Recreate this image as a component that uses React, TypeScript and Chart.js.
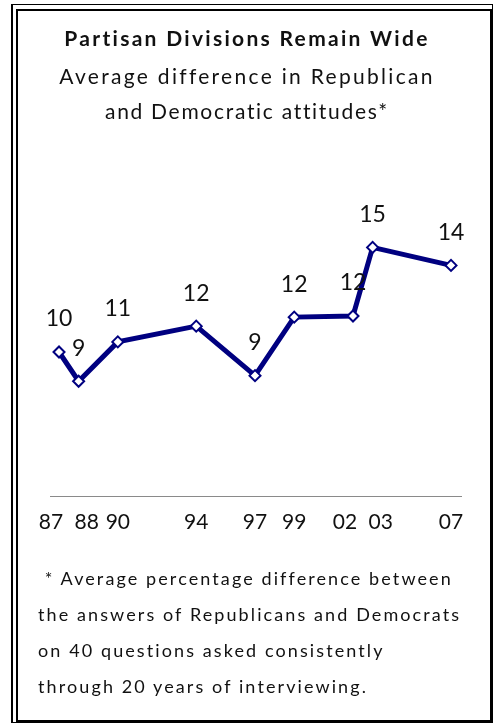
import { useEffect, useRef } from "react";
import { Chart, registerables } from "chart.js";

Chart.register(...registerables);

// Survey years and the average partisan gap (percentage points) for each
const years = [1987, 1988, 1990, 1994, 1997, 1999, 2002, 2003, 2007];
const gap = [10.4, 9.1, 10.85, 11.55, 9.35, 11.95, 12.0, 15.05, 14.25];

const titleText = "Partisan Divisions Remain Wide";
const subtitleLines = ["Average difference in Republican", "and Democratic attitudes*"];
const noteLines = [
  " * Average percentage difference between",
  "the answers of Republicans and Democrats",
  "on 40 questions asked consistently",
  "through 20 years of interviewing.",
];

const NAVY = "#000080";
const FONT = "Lato, 'DejaVu Sans', sans-serif";
const TEXT = "#111";

// Two-digit year; labels of back-to-back years are pushed apart so they don't collide
function yearLabel(value: number) {
  const label = String(value).slice(2);
  const i = years.indexOf(value);
  const pad = "   ";
  if (i >= 0 && i + 1 < years.length && years[i + 1] - value <= 1) return label + pad;
  if (i > 0 && value - years[i - 1] <= 1) return pad + label;
  return label;
}

// Rounded value written above each point
const valueLabels = {
  id: "valueLabels",
  afterDatasetsDraw(chart: any) {
    const ctx = chart.ctx as CanvasRenderingContext2D;
    const meta = chart.getDatasetMeta(0);
    const data = chart.data.datasets[0].data as { x: number; y: number }[];
    ctx.save();
    ctx.font = `23px ${FONT}`;
    ctx.fillStyle = TEXT;
    ctx.textAlign = "center";
    ctx.textBaseline = "middle";
    meta.data.forEach((pt: any, i: number) => {
      ctx.fillText(String(Math.round(data[i].y)), pt.x, pt.y - 33);
    });
    ctx.restore();
  },
};

function textLine(text: string, top: number, size: number, opts: any = {}) {
  return (
    <div
      key={text}
      style={{
        position: "absolute",
        top,
        left: opts.left ?? 0,
        width: opts.width ?? 494,
        textAlign: opts.align ?? "center",
        fontFamily: FONT,
        fontSize: size,
        fontWeight: opts.bold ? 700 : 400,
        lineHeight: "36px",
        letterSpacing: opts.spacing ?? 0,
        whiteSpace: "pre",
        color: TEXT,
      }}
    >
      {text}
    </div>
  );
}

export default function App() {
  const canvasRef = useRef<HTMLCanvasElement | null>(null);

  useEffect(() => {
    const canvas = canvasRef.current;
    if (!canvas) return;
    const chart = new Chart(canvas, {
      type: "line",
      data: {
        datasets: [
          {
            data: years.map((y, i) => ({ x: y, y: gap[i] })),
            borderColor: NAVY,
            borderWidth: 5,
            tension: 0,
            pointStyle: "rectRot",
            pointRadius: 5.5,
            pointBorderWidth: 2,
            pointBackgroundColor: "#fff",
            pointBorderColor: NAVY,
            clip: false as any,
          },
        ],
      },
      options: {
        responsive: false,
        animation: false,
        devicePixelRatio: 1,
        layout: { padding: { left: 50, right: 33, top: 203.5, bottom: 188 } },
        plugins: {
          legend: { display: false },
          tooltip: { enabled: false },
        },
        scales: {
          x: {
            type: "linear",
            min: 1986.54,
            max: 2007.51,
            grid: { display: false, drawTicks: false },
            border: { display: true, color: "#8a8a8a", width: 1 },
            afterBuildTicks: (scale: any) => {
              scale.ticks = years.map((v) => ({ value: v }));
            },
            afterFit: (scale: any) => {
              scale.height = 40;
            },
            ticks: {
              autoSkip: false,
              maxRotation: 0,
              minRotation: 0,
              padding: 14,
              color: TEXT,
              font: { family: FONT, size: 21 },
              callback: (v: any) => yearLabel(Number(v)),
            },
          },
          y: {
            display: false,
            min: 4,
            max: 17,
          },
        },
      },
      plugins: [valueLabels],
    });
    return () => chart.destroy();
  }, []);

  return (
    <div style={{ position: "absolute", left: 0, top: 0, width: 494, height: 724, background: "#fff", overflow: "hidden" }}>
      <div
        style={{
          position: "absolute",
          left: 11,
          top: 4,
          width: 482,
          height: 719,
          boxSizing: "border-box",
          borderStyle: "solid",
          borderColor: "#000",
          borderWidth: "1px 1px 1px 2px",
        }}
      />
      <div
        style={{
          position: "absolute",
          left: 16,
          top: 9,
          width: 476,
          height: 713,
          boxSizing: "border-box",
          border: "2px solid #000",
        }}
      />
      <canvas
        ref={canvasRef}
        width={494}
        height={724}
        style={{ position: "absolute", left: 0, top: 0, width: 494, height: 724 }}
      />
      {textLine(titleText, 19.5, 21, { bold: true, spacing: 2.3 })}
      {textLine(subtitleLines[0], 57.8, 21, { spacing: 2.3 })}
      {textLine(subtitleLines[1], 92.6, 21, { spacing: 1.7 })}
      {noteLines.map((t, i) => textLine(t, 560.1 + i * 35.8, 18, { align: "left", left: 38, width: 456, spacing: 2.1 }))}
    </div>
  );
}
